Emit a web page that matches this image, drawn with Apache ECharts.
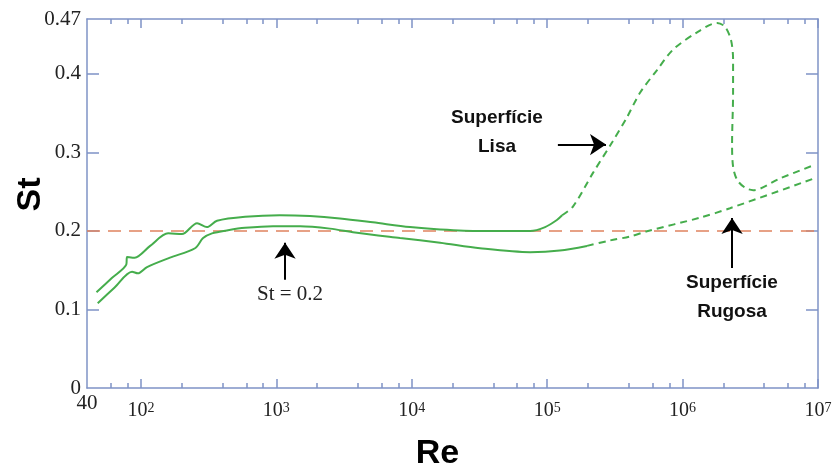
<!DOCTYPE html>
<html>
<head>
<meta charset="utf-8">
<script src="https://cdn.jsdelivr.net/npm/echarts@6/dist/echarts.min.js"></script>
<style>
  html, body { margin: 0; padding: 0; background: #fff; }
  #main { width: 834px; height: 471px; }
</style>
</head>
<body>
<div id="main"></div>
<script>
// eixos
var xMajor = [1e2, 1e3, 1e4, 1e5, 1e6, 1e7];
var xMinor = [60, 80, 200, 400, 600, 800, 2e3, 4e3, 6e3, 8e3, 2e4, 4e4, 6e4, 8e4,
  2e5, 4e5, 6e5, 8e5, 2e6, 4e6, 6e6, 8e6];
var yLabels = [0, 0.1, 0.2, 0.3, 0.4, 0.47];
var yTicks = [0.1, 0.2, 0.3, 0.4];

// superficie lisa
var reLisa = [47, 61, 78, 79, 90, 117, 159, 201, 260, 307, 365, 588, 1060, 1770, 2950, 5170,
  9700, 16200, 31900, 74800, 96600, 118000, 129000];
var stLisa = [0.122, 0.140, 0.157, 0.167, 0.166, 0.181, 0.197, 0.196, 0.210, 0.205, 0.213, 0.218,
  0.220, 0.219, 0.216, 0.211, 0.205, 0.202, 0.200, 0.200, 0.205, 0.214, 0.220];
var reLisaTr = [129000, 155000, 218000, 302000, 389000, 485000, 648000, 851000, 1280000, 1800000,
  2060000, 2280000, 2360000, 2360000, 2320000, 2360000, 2530000, 2900000, 3320000, 5250000, 9060000];
var stLisaTr = [0.220, 0.231, 0.274, 0.313, 0.345, 0.376, 0.405, 0.431, 0.453, 0.465,
  0.460, 0.443, 0.418, 0.376, 0.312, 0.282, 0.265, 0.255, 0.252, 0.267, 0.283];

// superficie rugosa
var reRug = [48, 64, 86, 95, 111, 164, 251, 288, 335, 440, 588, 946, 1500, 2490, 3810, 8200,
  16200, 31900, 74800, 124000, 197000];
var stRug = [0.108, 0.128, 0.148, 0.146, 0.154, 0.166, 0.178, 0.191, 0.197, 0.201, 0.204, 0.206,
  0.206, 0.203, 0.198, 0.191, 0.185, 0.178, 0.173, 0.175, 0.181];
var reRugTr = [197000, 292000, 410000, 556000, 1350000, 2240000, 9060000];
var stRugTr = [0.181, 0.188, 0.193, 0.200, 0.217, 0.229, 0.266];

// St = 0.2
var reRef = [40, 1e7];
var stRef = [0.2, 0.2];

var frameColor = '#7f93c6';
var green = '#45ad4c';
var serif = '"Liberation Serif", "Times New Roman", serif';
var sans = '"Liberation Sans", Arial, sans-serif';

function zip(a, b) {
  return a.map(function (v, i) { return [v, b[i]]; });
}

function lineSeries(re, st, dashed) {
  return {
    type: 'line',
    xAxisIndex: 0,
    yAxisIndex: 0,
    data: zip(re, st),
    showSymbol: false,
    smooth: 0.3,
    silent: true,
    lineStyle: { color: green, width: 2, type: dashed ? [7, 5] : 'solid' }
  };
}

function xAxisBase(grid, pos) {
  return {
    type: 'log', logBase: 10, gridIndex: grid, position: pos, min: 40, max: 1e7,
    splitLine: { show: false },
    axisLine: { show: grid === 0, onZero: false, lineStyle: { color: frameColor, width: 1.5 } }
  };
}

var chart = echarts.init(document.getElementById('main'));

var bottomMajor = xAxisBase(0, 'bottom');
bottomMajor.axisTick = { inside: true, length: 9, customValues: xMajor, lineStyle: { color: frameColor, width: 1.5 } };
bottomMajor.axisLabel = {
  customValues: xMajor, margin: 13,
  formatter: function (v) { return '{b|10}{s|' + Math.round(Math.log10(v)) + '}'; },
  rich: {
    b: { fontFamily: serif, fontSize: 20, color: '#222', lineHeight: 20 },
    s: { fontFamily: serif, fontSize: 14, color: '#222', lineHeight: 14, verticalAlign: 'top' }
  }
};
bottomMajor.name = 'Re';
bottomMajor.nameLocation = 'middle';
bottomMajor.nameGap = 49;
bottomMajor.nameMoveOverlap = false;
bottomMajor.nameTextStyle = { fontFamily: sans, fontWeight: 'bold', fontSize: 34, color: '#000', padding: [0, 30, 0, 0] };

var topMajor = xAxisBase(0, 'top');
topMajor.axisTick = { inside: true, length: 9, customValues: xMajor, lineStyle: { color: frameColor, width: 1.5 } };
topMajor.axisLabel = { show: false };

var bottomMinor = xAxisBase(1, 'bottom');
bottomMinor.axisTick = { inside: true, length: 5, customValues: xMinor, lineStyle: { color: frameColor, width: 1.5 } };
bottomMinor.axisLabel = {
  customValues: [40], margin: 5, fontFamily: serif, fontSize: 21, color: '#222',
  formatter: function (v) { return String(Math.round(v)); }
};

var topMinor = xAxisBase(1, 'top');
topMinor.axisTick = { inside: true, length: 5, customValues: xMinor, lineStyle: { color: frameColor, width: 1.5 } };
topMinor.axisLabel = { show: false };

var refSeries = {
  type: 'line',
  xAxisIndex: 0,
  yAxisIndex: 0,
  data: zip(reRef, stRef),
  showSymbol: false,
  silent: true,
  lineStyle: { color: '#e0825f', width: 1.6, type: [13, 8] },
  markLine: {
    silent: true,
    symbol: ['none', 'arrow'],
    symbolSize: 16,
    label: { show: false },
    lineStyle: { color: '#000', width: 2, type: 'solid' },
    data: [
      [{ coord: [1160, 0.138] }, { coord: [1160, 0.185] }],
      [{ coord: [120000, 0.310] }, { coord: [272000, 0.310] }],
      [{ coord: [2320000, 0.153] }, { coord: [2320000, 0.2166] }]
    ]
  }
};

var option = {
  animation: false,
  backgroundColor: '#fff',
  grid: [
    { left: 87, right: 16, top: 19, bottom: 83, containLabel: false, outerBoundsMode: 'none' },
    { left: 87, right: 16, top: 19, bottom: 83, containLabel: false, outerBoundsMode: 'none' }
  ],
  xAxis: [bottomMajor, topMajor, bottomMinor, topMinor],
  yAxis: [
    {
      type: 'value', gridIndex: 0, position: 'left', min: 0, max: 0.47,
      splitLine: { show: false },
      axisLine: { show: true, onZero: false, lineStyle: { color: frameColor, width: 1.5 } },
      axisTick: { inside: true, length: 12, customValues: yTicks, lineStyle: { color: frameColor, width: 1.5 } },
      axisLabel: { customValues: yLabels, margin: 6, fontFamily: serif, fontSize: 21, color: '#222' },
      name: 'St', nameLocation: 'middle', nameRotate: 90, nameGap: 39, nameMoveOverlap: false,
      nameTextStyle: { fontFamily: sans, fontWeight: 'bold', fontSize: 34, color: '#000', padding: [0, 0, 0, 18] }
    },
    {
      type: 'value', gridIndex: 0, position: 'right', min: 0, max: 0.47,
      splitLine: { show: false },
      axisLine: { show: true, onZero: false, lineStyle: { color: frameColor, width: 1.5 } },
      axisTick: { inside: true, length: 12, customValues: yTicks, lineStyle: { color: frameColor, width: 1.5 } },
      axisLabel: { show: false }
    },
    { type: 'value', gridIndex: 1, min: 0, max: 0.47, show: false }
  ],
  series: [
    refSeries,
    lineSeries(reLisa, stLisa, false),
    lineSeries(reLisaTr, stLisaTr, true),
    lineSeries(reRug, stRug, false),
    lineSeries(reRugTr, stRugTr, true)
  ],
  graphic: [
    {
      type: 'text', x: 290, y: 294, silent: true,
      style: { text: 'St = 0.2', font: '21px ' + serif, fill: '#222', textAlign: 'center', textVerticalAlign: 'middle' }
    },
    {
      type: 'text', x: 497, y: 132, silent: true,
      style: { text: 'Superfície\nLisa', font: 'bold 19px ' + sans, lineHeight: 29, fill: '#111', textAlign: 'center', textVerticalAlign: 'middle' }
    },
    {
      type: 'text', x: 732, y: 297, silent: true,
      style: { text: 'Superfície\nRugosa', font: 'bold 19px ' + sans, lineHeight: 29, fill: '#111', textAlign: 'center', textVerticalAlign: 'middle' }
    }
  ]
};

chart.setOption(option);
</script>
</body>
</html>
